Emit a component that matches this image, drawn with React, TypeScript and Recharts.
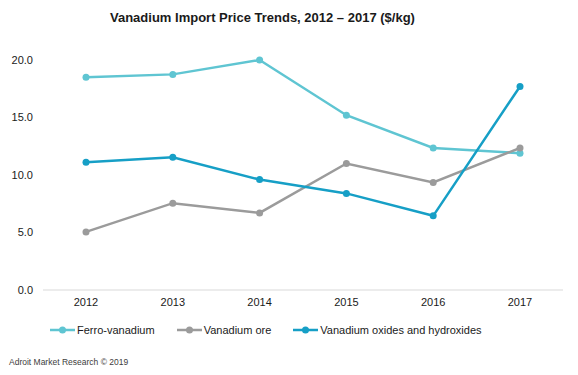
import { LineChart, Line, XAxis, YAxis, Legend } from 'recharts';

const years = ['2012', '2013', '2014', '2015', '2016', '2017'];
const ferroVanadium = [18.5, 18.75, 20.0, 15.2, 12.35, 11.9];
const vanadiumOre = [5.05, 7.55, 6.7, 11.0, 9.35, 12.35];
const vanadiumOxides = [11.1, 11.55, 9.6, 8.4, 6.45, 17.7];
const yTicks = [0, 5, 10, 15, 20];

const series = [
  { key: 'ferro', name: 'Ferro-vanadium', color: '#5fc5d2', values: ferroVanadium },
  { key: 'ore', name: 'Vanadium ore', color: '#9b9b9b', values: vanadiumOre },
  { key: 'oxides', name: 'Vanadium oxides and hydroxides', color: '#169fc6', values: vanadiumOxides },
];

const data = years.map((year, i) => {
  const row: Record<string, string | number> = { year };
  series.forEach((s) => {
    row[s.key] = s.values[i];
  });
  return row;
});

const font = '"Liberation Sans", Arial, sans-serif';

function LegendContent() {
  const gaps = [0, 22, 22];
  return (
    <div style={{ display: 'flex', alignItems: 'center', height: 20, paddingLeft: 50, fontFamily: font, fontSize: 11, color: '#1a1a1a' }}>
      {series.map((s, i) => (
        <div key={s.key} style={{ display: 'flex', alignItems: 'center', marginLeft: gaps[i] }}>
          <svg width={25} height={10} style={{ marginRight: 2 }}>
            <line x1={0} y1={5} x2={25} y2={5} stroke={s.color} strokeWidth={2.5} />
            <circle cx={12.5} cy={5} r={3.5} fill={s.color} />
          </svg>
          <span>{s.name}</span>
        </div>
      ))}
    </div>
  );
}

export default function App() {
  return (
    <div style={{ position: 'relative', width: 578, height: 375, background: '#fff', fontFamily: font }}>
      <style>{'body { margin: 0; }'}</style>
      <div style={{ position: 'absolute', left: 110, top: 10, fontSize: 13, fontWeight: 'bold', color: '#1a1a1a', whiteSpace: 'nowrap' }}>
        Vanadium Import Price Trends, 2012 – 2017 ($/kg)
      </div>
      <LineChart width={578} height={375} data={data} margin={{ top: 60, right: 15, bottom: 35, left: 0 }}>
        <XAxis
          dataKey="year"
          axisLine={{ stroke: '#d9d9d9', strokeWidth: 1 }}
          tickLine={false}
          padding={{ left: 43, right: 43 }}
          tick={{ fontSize: 11, fill: '#1a1a1a', fontFamily: font }}
          height={30}
        />
        <YAxis
          domain={[0, 20]}
          ticks={yTicks}
          tickFormatter={(v: number) => v.toFixed(1)}
          axisLine={false}
          tickLine={false}
          tickMargin={4}
          tick={{ fontSize: 11, fill: '#1a1a1a', fontFamily: font }}
          width={43}
        />
        <Legend verticalAlign="bottom" wrapperStyle={{ left: 0, width: 578 }} content={() => <LegendContent />} />
        {series.map((s) => (
          <Line
            key={s.key}
            type="linear"
            dataKey={s.key}
            name={s.name}
            stroke={s.color}
            strokeWidth={2.5}
            dot={{ r: 3.5, fill: s.color, stroke: s.color, strokeWidth: 0 }}
            isAnimationActive={false}
          />
        ))}
      </LineChart>
      <div style={{ position: 'absolute', left: 9, top: 357, fontSize: 8.5, color: '#404040', whiteSpace: 'nowrap' }}>
        Adroit Market Research © 2019
      </div>
    </div>
  );
}
